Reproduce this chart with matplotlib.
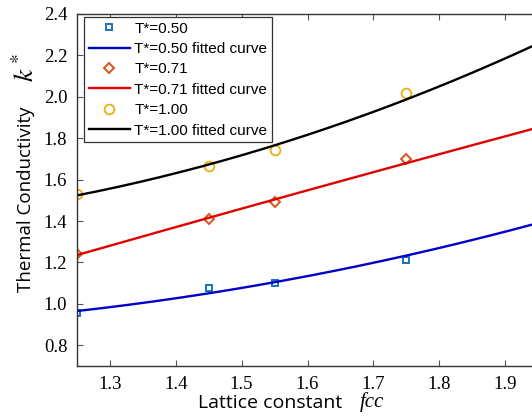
import matplotlib.pyplot as plt
import numpy as np

# lattice constant values (fcc) and reduced thermal conductivity k*
lattice = [1.25, 1.45, 1.55, 1.75, 1.95]
k_050 = [0.955, 1.078, 1.100, 1.212, 1.40]
k_071 = [1.240, 1.412, 1.492, 1.698, 1.845]
k_100 = [1.532, 1.665, 1.745, 2.020, 2.245]

x_ticks = [1.3, 1.4, 1.5, 1.6, 1.7, 1.8, 1.9]
y_ticks = [0.8, 1.0, 1.2, 1.4, 1.6, 1.8, 2.0, 2.2, 2.4]

fig = plt.figure(figsize=(5.32, 4.16), dpi=100)
ax = fig.add_axes([77/532, 50/416, (538-77)/532, (366-14)/416])

x = np.linspace(1.25, 1.95, 200)

series = [
    ('0.50', k_050, 's', '#1a72b8', '#0000c8', 5.0),
    ('0.71', k_071, 'D', '#d9531a', '#e00000', 5.0),
    ('1.00', k_100, 'o', '#e8b420', '#000000', 7.0),
]

for name, k, mk, mc, lc, ms in series:
    ax.plot(lattice, k, linestyle='none', marker=mk, markersize=ms,
            markerfacecolor='none', markeredgecolor=mc, markeredgewidth=1.4,
            label='T*=' + name)
    p = np.polyfit(lattice, k, 2)  # quadratic fit
    ax.plot(x, np.polyval(p, x), color=lc, lw=1.7,
            label='T*=' + name + ' fitted curve')

ax.set_xlim(1.25, 1.95)
ax.set_ylim(0.7, 2.4)
ax.set_xticks(x_ticks)
ax.set_yticks(y_ticks)
ax.set_xticklabels([f'{v:.1f}' for v in x_ticks], family='Liberation Serif', fontsize=13.5)
ax.set_yticklabels([f'{v:.1f}' for v in y_ticks], family='Liberation Serif', fontsize=13.5)
ax.tick_params(direction='in', top=True, right=True, length=4, width=0.8,
               color='#555555', pad=7)
for s in ax.spines.values():
    s.set_color('#333333')
    s.set_linewidth(1.0)

fig.text(26/532, 1 - 199/416, 'Thermal Conductivity', rotation=90,
         ha='center', va='center', family='Open Sans', fontsize=13.5)
fig.text(26/532, 1 - 68/416, r'$k^*$', rotation=90, ha='center', va='center',
         fontsize=20, math_fontfamily='stix')
fig.text(270/532, 1 - 403/416, 'Lattice constant', ha='center', va='center',
         family='Open Sans', fontsize=14)
fig.text(372/532, 1 - 402/416, 'fcc', ha='center', va='center',
         family='Liberation Serif', style='italic', fontsize=15)

leg = ax.legend(loc='upper left', bbox_to_anchor=(7/461, 1 - 3/352),
                prop={'family': 'Liberation Sans', 'size': 11},
                handlelength=2.7, handletextpad=0.3, labelspacing=0.42,
                borderpad=0.3, borderaxespad=0, fancybox=False, framealpha=1)
leg.get_frame().set_edgecolor('#333333')
leg.get_frame().set_linewidth(0.9)

plt.savefig('out.png', dpi=100)
